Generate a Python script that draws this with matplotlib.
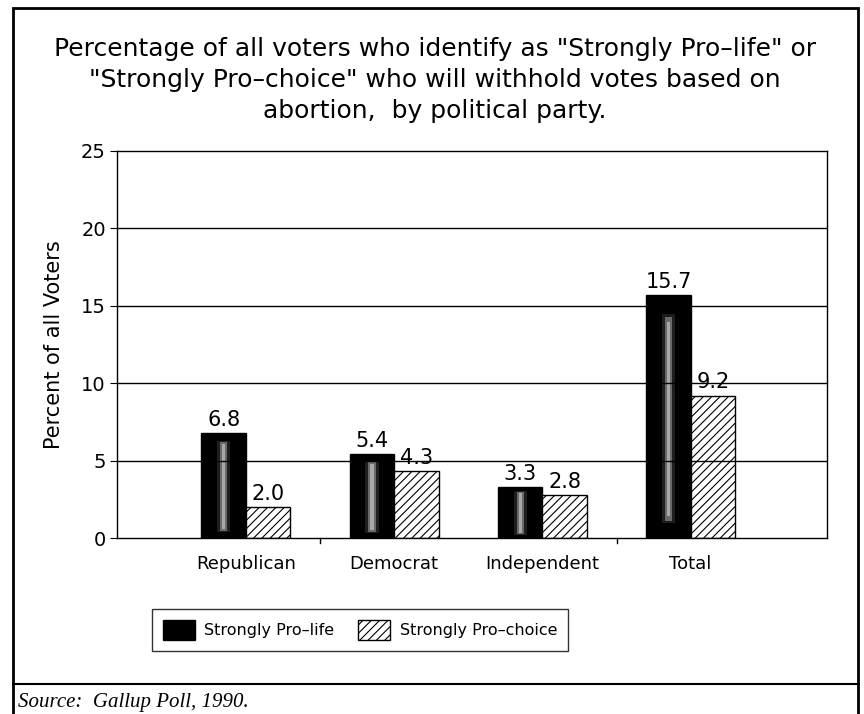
import numpy as np
import matplotlib
matplotlib.use("Agg")
import matplotlib.pyplot as plt
from matplotlib.patches import Rectangle, Patch
from matplotlib.lines import Line2D

# ---- data ----
parties = ["Republican", "Democrat", "Independent", "Total"]
pro_life = [6.8, 5.4, 3.3, 15.7]
pro_choice = [2.0, 4.3, 2.8, 9.2]
yticks = [0, 5, 10, 15, 20, 25]

title = ('Percentage of all voters who identify as "Strongly Pro\u2013life" or\n'
         '"Strongly Pro\u2013choice" who will withhold votes based on\n'
         'abortion,  by political party.')

plt.rcParams["font.family"] = ["DejaVu Sans"]
plt.rcParams["hatch.linewidth"] = 0.8

W, H = 864, 714
fig = plt.figure(figsize=(W / 100, H / 100), dpi=100)

# axes box in pixel coords: left 117, right 827, top 151, bottom 538
ax = fig.add_axes([117 / W, 1 - 538 / H, (827 - 117) / W, (538 - 151) / H])

x = np.arange(len(parties))
bw = 0.30
life = np.array(pro_life)
ax.bar(x - bw / 2, life, bw, color="black", edgecolor="black", lw=1, zorder=2)
# fuzzy light centre of the solid bars
ax.bar(x - bw / 2, life * 0.86, bw * 0.30, bottom=life * 0.06,
       color="#1e1e1e", lw=0, zorder=3)
ax.bar(x - bw / 2, life * 0.84, bw * 0.16, bottom=life * 0.07,
       color="#6a6a6a", lw=0, zorder=3)
ax.bar(x - bw / 2, life * 0.80, bw * 0.07, bottom=life * 0.09,
       color="#a8a8a8", lw=0, zorder=3)
ax.bar(x + bw / 2, pro_choice, bw, color="white", edgecolor="black", hatch="////",
       lw=1, zorder=2)

for i in range(len(parties)):
    ax.text(x[i] - bw / 2, pro_life[i] + 0.2, f"{pro_life[i]:.1f}", ha="center",
            va="bottom", fontsize=15, zorder=5)
    ax.text(x[i] + bw / 2, pro_choice[i] + 0.2, f"{pro_choice[i]:.1f}", ha="center",
            va="bottom", fontsize=15, zorder=5)

ax.set_xlim(-0.87, 3.92)
ax.set_ylim(0, 25)
ax.set_yticks(yticks)
ax.tick_params(axis="y", direction="out", length=5, labelsize=14, pad=3)
for yv in yticks[1:-1]:
    ax.axhline(yv, color="black", lw=1, zorder=4)

ax.set_xticks(x)
ax.set_xticklabels(parties, fontsize=13)
ax.tick_params(axis="x", length=0, pad=12)
# small separator ticks between groups
for sep in [0.5, 2.5]:
    ax.plot([sep, sep], [0, -0.35], color="black", lw=1, clip_on=False)

for s in ax.spines.values():
    s.set_linewidth(1)
ax.set_ylabel("Percent of all Voters", fontsize=15, labelpad=12)

fig.text(435 / W, 1 - 37 / H, title, ha="center", va="top", fontsize=18,
         linespacing=1.38)

# legend
handles = [Patch(facecolor="black", edgecolor="black", label="Strongly Pro\u2013life"),
           Patch(facecolor="white", edgecolor="black", hatch="////",
                 label="Strongly Pro\u2013choice")]
leg = fig.legend(handles=handles, loc="center", ncol=2,
                 bbox_to_anchor=(360 / W, 1 - 630 / H), fontsize=11.5,
                 frameon=True, fancybox=False, edgecolor="black",
                 handlelength=2.0, handleheight=1.6, columnspacing=1.5,
                 handletextpad=0.6, borderpad=0.65)
leg.get_frame().set_linewidth(1)

# outer frame and source strip
fig.add_artist(Rectangle((13 / W, -0.05), (858 - 13) / W, 1.05 - 8 / H,
                         transform=fig.transFigure, fill=False, lw=2,
                         edgecolor="black", clip_on=False))
fig.add_artist(Line2D([13 / W, 858 / W], [1 - 684 / H, 1 - 684 / H],
                      transform=fig.transFigure, color="black", lw=1.5))
fig.text(18 / W, 1 - 702 / H, "Source:  Gallup Poll, 1990.", ha="left",
         va="center", fontsize=15, style="italic", family="Liberation Serif")

fig.savefig("out.png", dpi=100)
